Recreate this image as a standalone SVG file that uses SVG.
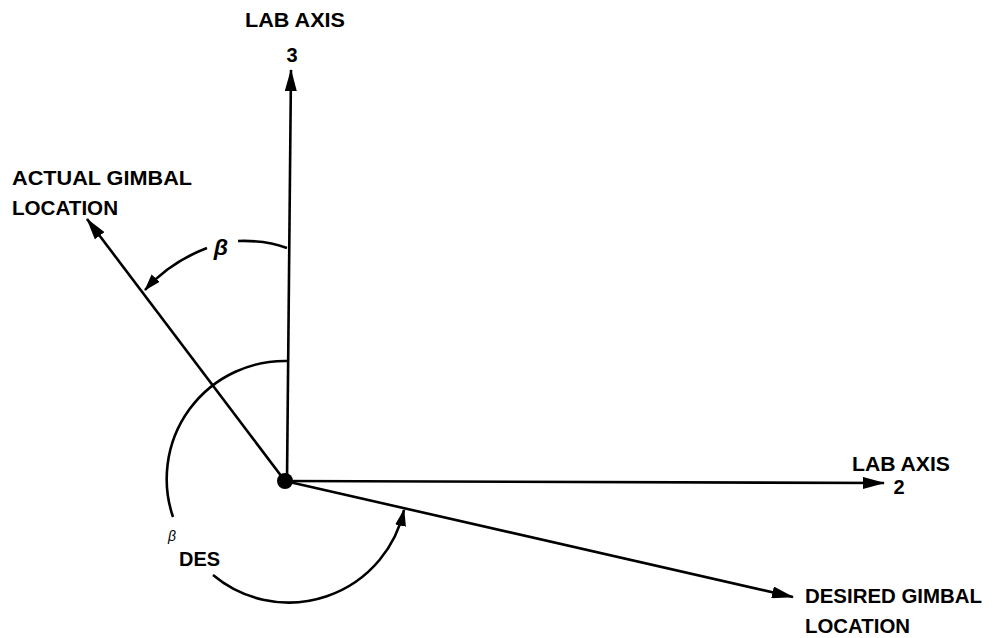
<svg xmlns="http://www.w3.org/2000/svg" width="993" height="638" viewBox="0 0 993 638">
<defs>
<marker id="ah" markerWidth="22" markerHeight="12" refX="21" refY="6" orient="auto" markerUnits="userSpaceOnUse">
<path d="M0,0 L22,6 L0,12 Z" fill="#000"/>
</marker>
<marker id="ahs" markerWidth="17" markerHeight="11" refX="16" refY="5.5" orient="auto" markerUnits="userSpaceOnUse">
<path d="M0,0 L17,5.5 L0,11 Z" fill="#000"/>
</marker>
<style>
.ln{stroke:#000;stroke-width:2.6;fill:none}
.t{font-family:"Liberation Sans",Arial,sans-serif;font-size:20px;font-weight:bold;fill:#000}
</style>
</defs>
<g id="connectors">
<path class="ln" d="M287,481 L291,70" marker-end="url(#ah)"/>
<path class="ln" d="M285,481 L884,483" marker-end="url(#ah)"/>
<path class="ln" d="M285,481 L87,219" marker-end="url(#ah)"/>
<path class="ln" d="M285,481 L793,597" marker-end="url(#ah)"/>
<path class="ln" d="M287,248 Q266,240 238,241"/>
<path class="ln" d="M207,248 Q170,262 145,290" marker-end="url(#ahs)"/>
<path class="ln" d="M287,361 A118 118 0 0 0 173,517"/>
<path class="ln" d="M213,575 A118 118 0 0 0 404,510" marker-end="url(#ahs)"/>
</g>
<g id="origin"><circle cx="285" cy="481" r="8" fill="#000"/></g>
<g id="lab-axis-3">
<text class="t" x="245" y="27" textLength="100" lengthAdjust="spacingAndGlyphs">LAB AXIS</text>
<text class="t" x="292" y="62" text-anchor="middle">3</text>
</g>
<g id="actual-gimbal">
<text class="t" x="12" y="185" textLength="180" lengthAdjust="spacingAndGlyphs">ACTUAL GIMBAL</text>
<text class="t" x="12" y="215" textLength="106" lengthAdjust="spacingAndGlyphs">LOCATION</text>
</g>
<g id="lab-axis-2">
<text class="t" x="852" y="471" textLength="98" lengthAdjust="spacingAndGlyphs">LAB AXIS</text>
<text class="t" x="899" y="494" text-anchor="middle">2</text>
</g>
<g id="desired-gimbal">
<text class="t" x="805" y="603" textLength="177" lengthAdjust="spacingAndGlyphs">DESIRED GIMBAL</text>
<text class="t" x="805" y="633" textLength="105" lengthAdjust="spacingAndGlyphs">LOCATION</text>
</g>
<g id="beta">
<text x="221" y="255" text-anchor="middle" style="font-family:'Liberation Sans',Arial,sans-serif;font-size:23px;font-weight:bold;font-style:italic">β</text>
</g>
<g id="beta-des">
<text x="172" y="541" text-anchor="middle" style="font-family:'Liberation Sans',Arial,sans-serif;font-size:14px;font-style:italic">β</text>
<text class="t" x="179" y="566" textLength="41" lengthAdjust="spacingAndGlyphs">DES</text>
</g>
</svg>
